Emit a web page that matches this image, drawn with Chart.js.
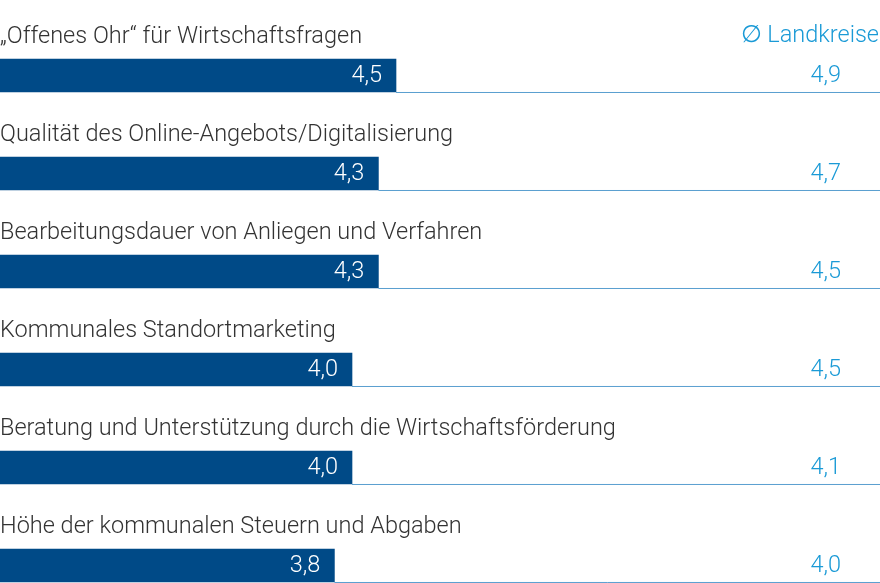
<!DOCTYPE html>
<html>
<head>
<meta charset="utf-8">
<script src="https://cdn.jsdelivr.net/npm/chart.js@4"></script>
<style>
  html, body { margin: 0; padding: 0; background: #fff; }
  #wrap { width: 880px; height: 583px; }
</style>
</head>
<body>
<div id="wrap"><canvas id="chart"></canvas></div>
<script>
const categories = [
    '„Offenes Ohr“ für Wirtschaftsfragen',
    'Qualität des Online-Angebots/Digitalisierung',
    'Bearbeitungsdauer von Anliegen und Verfahren',
    'Kommunales Standortmarketing',
    'Beratung und Unterstützung durch die Wirtschaftsförderung',
    'Höhe der kommunalen Steuern und Abgaben'
];
const ownValues = [4.5, 4.3, 4.3, 4.0, 4.0, 3.8];
const districtValues = [4.9, 4.7, 4.5, 4.5, 4.1, 4.0];
const headerLabel = '∅ Landkreise';

const darkBlue = '#004a87';
const lightBlue = '#1a9ad6';
const textFont = '300 23.5px Roboto';

const fmt = v => v.toFixed(1).replace('.', ',');

// draws category titles, value labels and the thin rule under each row
const labelPlugin = {
    id: 'labels',
    afterDatasetsDraw(chart) {
        const ctx = chart.ctx;
        const meta = chart.getDatasetMeta(0);
        const right = chart.chartArea.right;
        ctx.save();
        ctx.font = textFont;
        ctx.fillStyle = lightBlue;
        ctx.textAlign = 'right';
        ctx.textBaseline = 'middle';
        ctx.fillText(headerLabel, right - 1, 36);
        meta.data.forEach((bar, i) => {
            const top = bar.y - bar.height / 2;
            const bottom = bar.y + bar.height / 2;
            ctx.strokeStyle = '#5a9fd0';
            ctx.lineWidth = 1;
            ctx.beginPath();
            ctx.moveTo(bar.x, bottom + 0.5);
            ctx.lineTo(right, bottom + 0.5);
            ctx.stroke();

            ctx.fillStyle = '#333';
            ctx.textAlign = 'left';
            ctx.fillText(categories[i], 0, top - 22);

            ctx.fillStyle = '#fff';
            ctx.textAlign = 'right';
            ctx.fillText(fmt(ownValues[i]), bar.x - 14, bar.y + 1);

            ctx.fillStyle = lightBlue;
            ctx.fillText(fmt(districtValues[i]), right - 39, bar.y + 1);
        });
        ctx.restore();
    }
};

new Chart(document.getElementById('chart'), {
    type: 'bar',
    data: {
        datasets: [{
            data: ownValues.map((v, i) => ({ x: v, y: i })),
            backgroundColor: darkBlue,
            barThickness: 33
        }]
    },
    options: {
        indexAxis: 'y',
        responsive: true,
        maintainAspectRatio: false,
        animation: false,
        layout: { padding: 0 },
        plugins: { legend: { display: false }, tooltip: { enabled: false } },
        scales: {
            x: { min: 0, max: 10, display: false },
            y: { type: 'linear', offset: false, reverse: true, min: -0.7704, max: 5.1786, display: false }
        }
    },
    plugins: [labelPlugin]
});
</script>
</body>
</html>
